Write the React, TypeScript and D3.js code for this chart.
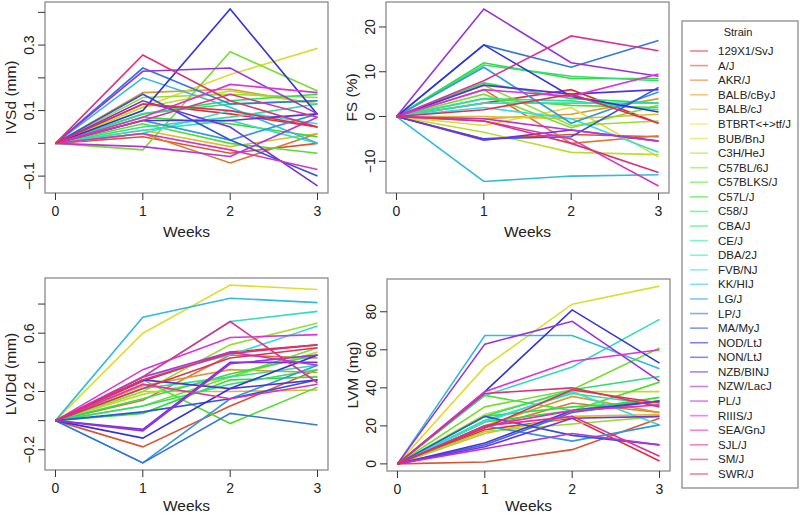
import * as d3 from 'd3';

const strains = [
  '129X1/SvJ', 'A/J', 'AKR/J', 'BALB/cByJ', 'BALB/cJ', 'BTBRT<+>tf/J', 'BUB/BnJ', 'C3H/HeJ',
  'C57BL/6J', 'C57BLKS/J', 'C57L/J', 'C58/J', 'CBA/J', 'CE/J', 'DBA/2J', 'FVB/NJ', 'KK/HIJ',
  'LG/J', 'LP/J', 'MA/MyJ', 'NOD/LtJ', 'NON/LtJ', 'NZB/BINJ', 'NZW/LacJ', 'PL/J', 'RIIIS/J',
  'SEA/GnJ', 'SJL/J', 'SM/J', 'SWR/J',
];

const weeks = [0, 1, 2, 3];

// change from baseline, weeks 0..3, one row per strain
const ivsd = [
  [0, 0.12, 0.09, 0.05], [0, 0.02, -0.03, 0.0], [0, 0.03, -0.06, 0.03], [0, 0.155, 0.165, 0.12],
  [0, 0.04, -0.01, 0.03], [0, 0.11, 0.21, 0.29], [0, 0.11, 0.16, 0.12], [0, 0.14, 0.15, 0.14],
  [0, -0.02, 0.28, 0.16], [0, 0.06, 0.0, -0.03], [0, 0.08, 0.06, 0.02], [0, 0.09, 0.13, 0.15],
  [0, 0.09, 0.12, 0.13], [0, 0.05, 0.08, 0.12], [0, 0.04, 0.07, 0.0], [0, 0.03, 0.1, 0.06],
  [0, 0.2, 0.11, 0.0], [0, 0.07, 0.01, 0.09], [0, 0.23, 0.12, 0.13], [0, 0.15, 0.01, -0.1],
  [0, 0.1, 0.41, 0.088], [0, 0.07, 0.07, 0.09], [0, 0.13, 0.05, -0.13], [0, 0.22, 0.23, 0.09],
  [0, -0.01, -0.04, 0.08], [0, 0.08, 0.18, 0.155], [0, 0.03, -0.02, -0.08], [0, 0.07, 0.15, 0.08],
  [0, 0.27, 0.13, 0.05], [0, 0.12, 0.1, 0.05],
];

const fs = [
  [0, 3, 6, -1.5], [0, -5, -4, -4.5], [0, 6, -6, -4.3], [0, -0.5, 0.5, 4],
  [0, 0, -0.5, 0.5], [0, -2, 2, -9], [0, -3.5, -8, -8.5], [0, 7, -2, -1],
  [0, 5, -2.5, 2.5], [0, 4, 2.5, 2], [0, 12, 8.5, 8.5], [0, 7.5, 4, 3],
  [0, 11.5, 9, 8], [0, 4, 3.5, 1.5], [0, 3, 3, 3], [0, 2, -0.5, -8],
  [0, -14.5, -13.3, -13], [0, 11, -1.5, 5.5], [0, 16, 11, 17], [0, -5, -4.5, 6.5],
  [0, 16, 4.5, 1], [0, 7, 5, 6], [0, -5.3, -3, -5.5], [0, 24, 12, 9],
  [0, -0.5, -3, -5.5], [0, 6, 4.5, 9.5], [0, -1, -5, -15.5], [0, 8, 18, 14.7],
  [0, -1, -6, -12.5], [0, 1.5, 5, -1.5],
];

const lvid = [
  [0, 0.27, 0.47, 0.52], [0, -0.18, 0.1, 0.35], [0, 0.14, 0.45, 0.43], [0, 0.24, 0.35, 0.33],
  [0, 0.2, 0.2, 0.21], [0, 0.6, 0.93, 0.9], [0, 0.18, 0.3, 0.47], [0, 0.2, 0.52, 0.67],
  [0, 0.1, 0.3, 0.5], [0, 0.28, -0.02, 0.23], [0, 0.05, 0.28, 0.3], [0, 0.15, 0.32, 0.45],
  [0, 0.1, 0.25, 0.35], [0, 0.22, 0.3, 0.38], [0, 0.3, 0.68, 0.75], [0, 0.3, 0.45, 0.65],
  [0, 0.71, 0.84, 0.81], [0, -0.29, 0.15, 0.38], [0, -0.29, 0.05, -0.03], [0, 0.06, 0.15, 0.28],
  [0, -0.12, 0.22, 0.45], [0, 0.28, 0.22, 0.28], [0, -0.06, 0.4, 0.4], [0, -0.07, 0.39, 0.45],
  [0, 0.3, 0.47, 0.38], [0, 0.35, 0.57, 0.59], [0, 0.25, 0.15, 0.25], [0, 0.3, 0.68, 0.26],
  [0, 0.28, 0.46, 0.52], [0, 0.22, 0.43, 0.5],
];

const lvm = [
  [0, 18, 24, 1.5], [0, 1, 7.5, 24], [0, 19, 32, 27], [0, 20, 35.5, 27],
  [0, 16, 25, 26], [0, 51, 84, 93.5], [0, 26, 38, 38], [0, 17, 21, 25],
  [0, 30, 39, 61], [0, 36, 28, 43], [0, 22, 28, 35], [0, 25, 30, 33],
  [0, 25, 39, 46], [0, 23, 37, 31], [0, 36, 51, 76], [0, 22, 38, 20.5],
  [0, 67.5, 67.5, 50], [0, 20, 12, 20.5], [0, 10, 27, 33], [0, 25, 15, 10],
  [0, 38, 81, 53], [0, 11, 28, 33], [0, 9, 24, 25], [0, 63, 75, 43.5],
  [0, 8, 16, 10], [0, 38, 54, 60], [0, 20, 28, 31], [0, 20, 25, 4],
  [0, 37, 40, 30], [0, 19, 39, 32],
];

const ivsdTicks = [-0.1, 0, 0.1, 0.2, 0.3, 0.4];
const ivsdLabels = [-0.1, 0.1, 0.3];
const fsTicks = [-10, 0, 10, 20];
const lvidTicks = [-0.2, 0, 0.2, 0.4, 0.6, 0.8];
const lvidLabels = [-0.2, 0.2, 0.6];
const lvmTicks = [0, 20, 40, 60, 80];

const font = '"Liberation Sans", Arial, sans-serif';
const hue = (i: number) => (i * 360) / strains.length;
const lineColor = (i: number) => d3.hsl(hue(i), 0.72, 0.53).toString();
const keyColor = (i: number) => d3.hsl(hue(i), 0.85, 0.73).toString();

const fmt = (v: number) => d3.format('')(v).replace('-', '\u2212');

interface PanelProps {
  left: number;
  top: number;
  width: number;
  height: number;
  rows: number[][];
  ticks: number[];
  labels: number[];
  title: string;
}

function Panel({ left, top, width, height, rows, ticks, labels, title }: PanelProps) {
  // R style 4% padding around the data range
  const pad = (lo: number, hi: number): [number, number] => {
    const r = (hi - lo) * 0.04;
    return [lo - r, hi + r];
  };
  const x = d3.scaleLinear(pad(0, 3), [left, left + width]);
  const all = rows.flat();
  const y = d3.scaleLinear(pad(d3.min(all)!, d3.max(all)!), [top + height, top]);
  const line = d3
    .line<number>()
    .x((_, i) => x(weeks[i]))
    .y((d) => y(d));
  const bottom = top + height;

  return (
    <g fontFamily={font}>
      {rows.map((r, i) => (
        <path key={i} d={line(r) ?? ''} fill="none" stroke={lineColor(i)} strokeWidth={1.6} />
      ))}
      <rect x={left} y={top} width={width} height={height} fill="none" stroke="#8a8a8a" strokeWidth={1.3} />
      {/* y axis */}
      {ticks.map((t) => (
        <line key={t} x1={left - 7} x2={left} y1={y(t)} y2={y(t)} stroke="#333" strokeWidth={1} />
      ))}
      {labels.map((t) => (
        <text
          key={t}
          x={left - 11}
          y={y(t)}
          transform={`rotate(-90, ${left - 11}, ${y(t)})`}
          textAnchor="middle"
          fontSize={14}
          fill="#222"
        >
          {fmt(t)}
        </text>
      ))}
      <text
        x={left - 29}
        y={top + height / 2}
        transform={`rotate(-90, ${left - 29}, ${top + height / 2})`}
        textAnchor="middle"
        fontSize={15.5}
        fill="#222"
      >
        {title}
      </text>
      {/* x axis */}
      {weeks.map((w) => (
        <g key={w}>
          <line x1={x(w)} x2={x(w)} y1={bottom} y2={bottom + 7} stroke="#333" strokeWidth={1} />
          <text x={x(w)} y={bottom + 23} textAnchor="middle" fontSize={14} fill="#222">
            {w}
          </text>
        </g>
      ))}
      <text x={left + width / 2} y={Math.min(bottom + 44, 511)} textAnchor="middle" fontSize={15.5} fill="#222">
        Weeks
      </text>
    </g>
  );
}

function Legend() {
  const left = 682;
  const top = 21;
  const y = d3.scaleLinear([0, strains.length - 1], [51, 474]);
  return (
    <g fontFamily={font}>
      <rect x={left} y={top} width={116} height={467} fill="#fff" stroke="#8a8a8a" strokeWidth={1.3} />
      <text x={738} y={36} textAnchor="middle" fontSize={11} fill="#222">
        Strain
      </text>
      {strains.map((s, i) => (
        <g key={s}>
          <line x1={690} x2={708} y1={y(i)} y2={y(i)} stroke={keyColor(i)} strokeWidth={1.6} />
          <text x={718} y={y(i) + 4} fontSize={11.5} fill="#222">
            {s}
          </text>
        </g>
      ))}
    </g>
  );
}

export default function App() {
  return (
    <svg width={800} height={516} style={{ position: 'absolute', left: 0, top: 0, background: '#fff' }}>
      <Panel left={45} top={2} width={283} height={191} rows={ivsd} ticks={ivsdTicks} labels={ivsdLabels} title="IVSd (mm)" />
      <Panel left={386} top={2} width={283} height={191} rows={fs} ticks={fsTicks} labels={fsTicks} title="FS (%)" />
      <Panel left={45} top={278} width={283} height={192} rows={lvid} ticks={lvidTicks} labels={lvidLabels} title="LVIDd (mm)" />
      <Panel left={387} top={279} width={283} height={192} rows={lvm} ticks={lvmTicks} labels={lvmTicks} title="LVM (mg)" />
      <Legend />
    </svg>
  );
}
